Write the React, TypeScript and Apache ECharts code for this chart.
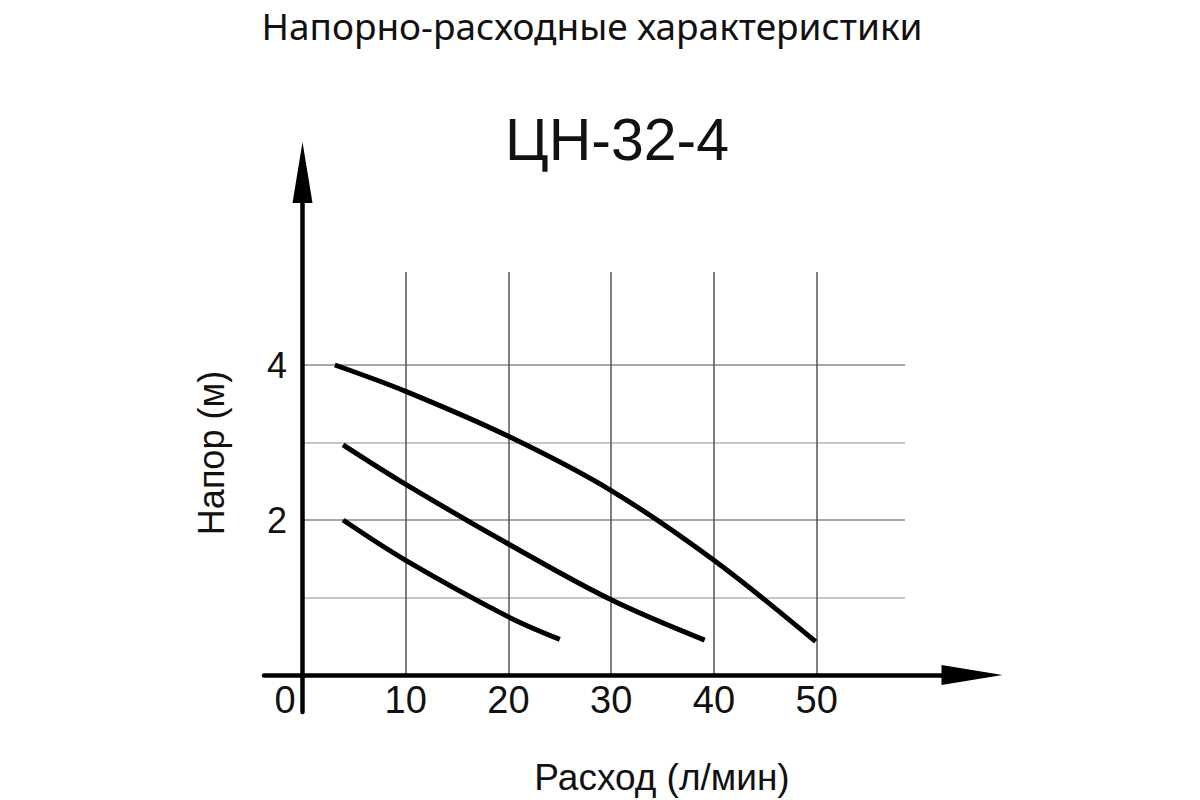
import { useEffect, useRef } from 'react';
import * as echarts from 'echarts';

const pageTitle = 'Напорно-расходные характеристики';
const modelName = 'ЦН-32-4';
const xName = 'Расход (л/мин)';
const yName = 'Напор (м)';

const xLabels = [0, 10, 20, 30, 40, 50];
const yLabels = [2, 4];
const xMax = 58.6;
const yMax = 5.2;

// [расход, напор]
const speed3 = [
  [3.1, 4.0], [10, 3.66], [20, 3.08], [30, 2.38], [40, 1.48], [49.9, 0.43],
];
const speed2 = [
  [3.9, 2.97], [10, 2.46], [20, 1.69], [30, 0.97], [39.1, 0.45],
];
const speed1 = [
  [3.9, 2.0], [10, 1.48], [20, 0.75], [25, 0.46],
];

const ARIAL = '"Liberation Sans", Arial, sans-serif';
const INK = '#111';

export default function App() {
  const chartRef = useRef<HTMLDivElement>(null);

  useEffect(() => {
    if (!chartRef.current) return;
    const chart = echarts.init(chartRef.current, undefined, { renderer: 'svg' });

    const curve = (data: number[][]) => ({
      type: 'line',
      xAxisIndex: 0,
      yAxisIndex: 0,
      data,
      smooth: 0.35,
      showSymbol: false,
      lineStyle: { color: '#000', width: 5 },
    });

    const arrowAxis = {
      show: true,
      onZero: false,
      symbol: ['none', 'triangle'],
      symbolSize: [20, 61],
      lineStyle: { color: '#000', width: 4.5 },
    };
    const hidden = { show: false };

    chart.setOption({
      animation: false,
      backgroundColor: '#fff',
      title: [
        {
          text: pageTitle,
          left: 587,
          top: 20,
          textAlign: 'center',
          textVerticalAlign: 'middle',
          textStyle: { fontFamily: '"Noto Sans", sans-serif', fontSize: 37, fontWeight: 'normal', color: INK },
        },
        {
          text: modelName,
          left: 612,
          top: 135,
          textAlign: 'center',
          textVerticalAlign: 'middle',
          textStyle: { fontFamily: ARIAL, fontSize: 59, fontWeight: 'normal', color: INK },
        },
      ],
      graphic: [
        {
          type: 'text',
          x: 211,
          y: 453,
          rotation: Math.PI / 2,
          style: {
            text: yName,
            fontFamily: ARIAL,
            fontSize: 36,
            fill: INK,
            align: 'center',
            verticalAlign: 'middle',
          },
        },
        {
          type: 'text',
          x: 662,
          y: 777,
          style: {
            text: xName,
            fontFamily: ARIAL,
            fontSize: 37,
            fill: INK,
            align: 'center',
            verticalAlign: 'middle',
          },
        },
      ],
      grid: [
        { left: 303, top: 272, width: 602, height: 403 },
        { left: 264, right: 228, top: 272, bottom: 125 },
        { left: 302.5, width: 10, top: 172.5, bottom: 88 },
      ],
      xAxis: [
        {
          gridIndex: 0,
          type: 'value',
          min: 0,
          max: xMax,
          interval: 10,
          axisLine: hidden,
          axisTick: hidden,
          axisLabel: {
            margin: 6,
            fontFamily: ARIAL,
            fontSize: 38,
            color: INK,
            formatter: (v: number) =>
              v === 0 ? '{z|0}' : xLabels.includes(v) ? String(v) : '',
            rich: {
              z: { fontFamily: ARIAL, fontSize: 38, color: INK, padding: [0, 36, 0, 0] },
            },
          },
          splitLine: {
            lineStyle: {
              width: 1.5,
              color: ['rgba(0,0,0,0)', '#555', '#555', '#555', '#555', '#555', 'rgba(0,0,0,0)'],
            },
          },
        },
        {
          gridIndex: 1,
          type: 'value',
          min: 0,
          max: 1,
          axisLine: arrowAxis,
          axisTick: hidden,
          axisLabel: hidden,
          splitLine: hidden,
        },
        { gridIndex: 2, type: 'value', min: 0, max: 1, show: false },
      ],
      yAxis: [
        {
          gridIndex: 0,
          type: 'value',
          min: 0,
          max: yMax,
          interval: 1,
          axisLine: hidden,
          axisTick: hidden,
          axisLabel: {
            margin: 16,
            fontFamily: ARIAL,
            fontSize: 36,
            color: INK,
            formatter: (v: number) => (yLabels.includes(v) ? String(v) : ''),
          },
          splitLine: {
            lineStyle: {
              width: 1.5,
              color: ['rgba(0,0,0,0)', '#b4b4b4', '#888', '#b4b4b4', '#888', 'rgba(0,0,0,0)', 'rgba(0,0,0,0)'],
            },
          },
        },
        { gridIndex: 1, type: 'value', min: 0, max: 1, show: false },
        {
          gridIndex: 2,
          type: 'value',
          min: 0,
          max: 1,
          axisLine: arrowAxis,
          axisTick: hidden,
          axisLabel: hidden,
          splitLine: hidden,
        },
      ],
      series: [curve(speed3), curve(speed2), curve(speed1)],
    });

    return () => {
      chart.dispose();
    };
  }, []);

  return (
    <div
      ref={chartRef}
      style={{ position: 'fixed', left: 0, top: 0, width: 1200, height: 800 }}
    />
  );
}
